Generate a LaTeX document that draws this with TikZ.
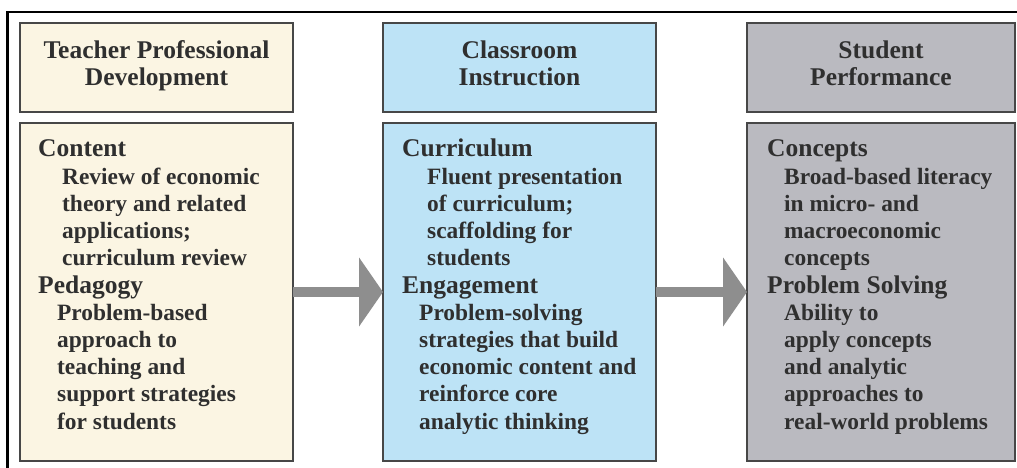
\documentclass[tikz,border=0pt]{standalone}
\usepackage{fontspec}
\setmainfont{Liberation Serif}
\usetikzlibrary{arrows.meta}
\definecolor{creamfill}{HTML}{FBF5E3}
\definecolor{bluefill}{HTML}{BDE3F6}
\definecolor{grayfill}{HTML}{BABAC0}
\definecolor{boxline}{HTML}{474747}
\definecolor{arrowgray}{HTML}{8E8E8E}
\definecolor{txt}{HTML}{2F2F2F}
\begin{document}
\begin{tikzpicture}[x=1pt,y=-1pt,
  box/.style={draw=boxline, line width=2pt, inner sep=0pt, outer sep=0pt},
  hdbox/.style={box, minimum height=89pt},
  bodybox/.style={box, minimum height=338pt},
  hd/.style={font=\fontsize{25.5}{27}\selectfont\bfseries, text=txt, inner sep=0pt, anchor=base},
  sec/.style={font=\fontsize{25.5}{27}\selectfont\bfseries, text=txt, inner sep=0pt, anchor=base west},
  sub/.style={font=\fontsize{23.4}{27}\selectfont\bfseries, text=txt, inner sep=0pt, anchor=base west},
  bigarrow/.style={draw=arrowgray, line width=10pt, -{Triangle[length=24pt,width=68pt]}, fill=arrowgray}
]
\useasboundingbox (0,0) rectangle (1017,468);
\fill[white] (0,0) rectangle (1017,468);
% outer frame
\draw[black, line width=2.6pt] (7.5,468) -- (7.5,12) -- (1017,12);

% header boxes
\node[hdbox, fill=creamfill, minimum width=273pt] (h1) at (156.5,67.5) {};
\node[hdbox, fill=bluefill, minimum width=273pt] (h2) at (519.5,67.5) {};
\node[hdbox, fill=grayfill, minimum width=268pt] (h3) at (881,67.5) {};
% body boxes
\node[bodybox, fill=creamfill, minimum width=273pt] (b1) at (156.5,292) {};
\node[bodybox, fill=bluefill, minimum width=273pt] (b2) at (519.5,292) {};
\node[bodybox, fill=grayfill, minimum width=268pt] (b3) at (881,292) {};

% header texts
\node[hd] (h1a) at (156.5,58.5) {Teacher Professional};
\node[hd] (h1b) at (156.5,85.5) {Development};
\node[hd] (h2a) at (519.5,58.5) {Classroom};
\node[hd] (h2b) at (519.5,85.5) {Instruction};
\node[hd] (h3a) at (881,58.5) {Student};
\node[hd] (h3b) at (881,85.5) {Performance};

% column 1
\node[sec] (c1s1) at (38,157) {Content};
\node[sub] (c1l1) at (62,184.2) {Review of economic};
\node[sub] (c1l2) at (62,211.4) {theory and related};
\node[sub] (c1l3) at (62,238.6) {applications;};
\node[sub] (c1l4) at (62,265.8) {curriculum review};
\node[sec] (c1s2) at (38,293) {Pedagogy};
\node[sub] (c1l5) at (57,320.2) {Problem-based};
\node[sub] (c1l6) at (57,347.4) {approach to};
\node[sub] (c1l7) at (57,374.6) {teaching and};
\node[sub] (c1l8) at (57,401.8) {support strategies};
\node[sub] (c1l9) at (57,429) {for students};

% column 2
\node[sec] (c2s1) at (402,157) {Curriculum};
\node[sub] (c2l1) at (427,184.2) {Fluent presentation};
\node[sub] (c2l2) at (427,211.4) {of curriculum;};
\node[sub] (c2l3) at (427,238.6) {scaffolding for};
\node[sub] (c2l4) at (427,265.8) {students};
\node[sec] (c2s2) at (402,293) {Engagement};
\node[sub] (c2l5) at (419,320.2) {Problem-solving};
\node[sub] (c2l6) at (419,347.4) {strategies that build};
\node[sub] (c2l7) at (419,374.6) {economic content and};
\node[sub] (c2l8) at (419,401.8) {reinforce core};
\node[sub] (c2l9) at (419,429) {analytic thinking};

% column 3
\node[sec] (c3s1) at (767,157) {Concepts};
\node[sub] (c3l1) at (784,184.2) {Broad-based literacy};
\node[sub] (c3l2) at (784,211.4) {in micro- and};
\node[sub] (c3l3) at (784,238.6) {macroeconomic};
\node[sub] (c3l4) at (784,265.8) {concepts};
\node[sec] (c3s2) at (767,293) {Problem Solving};
\node[sub] (c3l5) at (784,320.2) {Ability to};
\node[sub] (c3l6) at (784,347.4) {apply concepts};
\node[sub] (c3l7) at (784,374.6) {and analytic};
\node[sub] (c3l8) at (784,401.8) {approaches to};
\node[sub] (c3l9) at (784,429) {real-world problems};

% arrows
\draw[bigarrow] (b1.east) -- (b2.west);
\draw[bigarrow] (b2.east) -- (b3.west);
\end{tikzpicture}
\end{document}
